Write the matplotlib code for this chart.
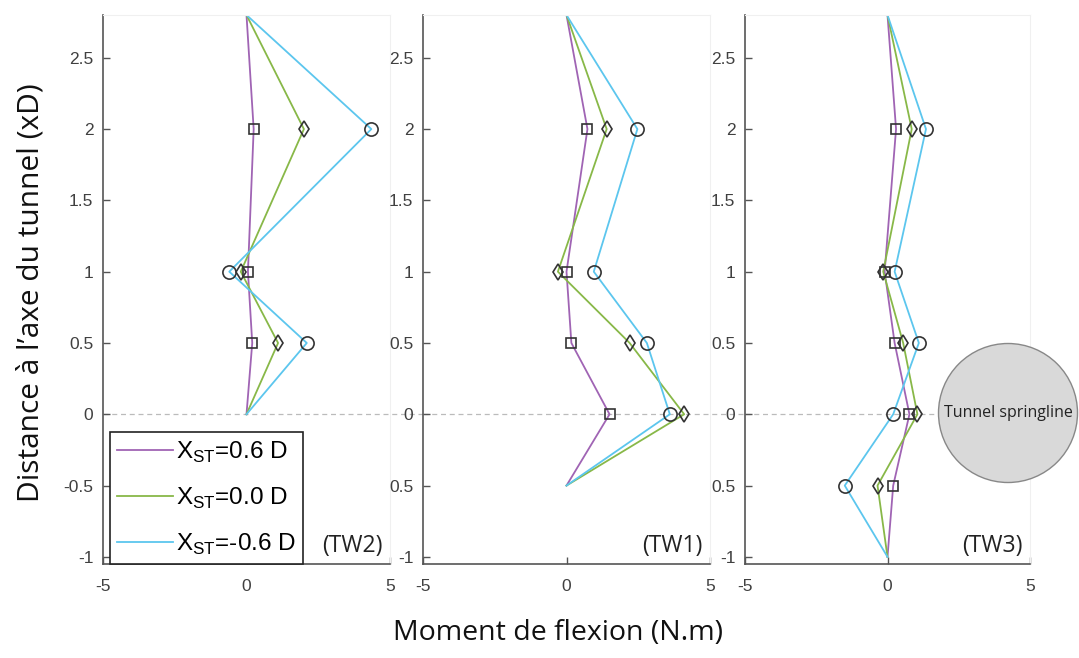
import matplotlib
matplotlib.use('Agg')
import matplotlib.pyplot as plt
from matplotlib.lines import Line2D
from matplotlib.patches import Ellipse

# moment de flexion (N.m) per tunnel wall, one list per X_ST case
tw2_y = [2.8, 2, 1, 0.5, 0]
tw2_p06 = [0, 0.25, 0.05, 0.2, 0]
tw2_p00 = [0, 2.0, -0.2, 1.1, 0]
tw2_m06 = [0, 4.35, -0.6, 2.1, 0]

tw1_y = [2.8, 2, 1, 0.5, 0, -0.5]
tw1_p06 = [0, 0.73, 0.0, 0.17, 1.5, 0]
tw1_p00 = [0, 1.4, -0.3, 2.2, 4.1, 0]
tw1_m06 = [0, 2.47, 0.95, 2.8, 3.6, 0]

tw3_y = [2.8, 2, 1, 0.5, 0, -0.5, -1]
tw3_p06 = [0, 0.3, -0.1, 0.25, 0.77, 0.2, 0]
tw3_p00 = [0, 0.85, -0.15, 0.55, 1.05, -0.35, 0]
tw3_m06 = [0, 1.35, 0.25, 1.1, 0.2, -1.5, 0]

panel_names = ['(TW2)', '(TW1)', '(TW3)']
series_labels = [r'X$_{\mathregular{ST}}$=0.6 D', r'X$_{\mathregular{ST}}$=0.0 D', r'X$_{\mathregular{ST}}$=-0.6 D']
colors = ['#a064b4', '#88b848', '#5cc6ee']
markers = ['s', 'd', 'o']
msizes = [7.5, 8.5, 9.5]

y_ticks = [-1, -0.5, 0, 0.5, 1, 1.5, 2, 2.5]
y_ticklabels_first = ['-1', '-0.5', '0', '0.5', '1', '1.5', '2', '2.5']
y_ticklabels_other = ['-1', '0.5', '0', '0.5', '1', '1.5', '2', '2.5']

panels = [
    (tw2_y, [tw2_p06, tw2_p00, tw2_m06]),
    (tw1_y, [tw1_p06, tw1_p00, tw1_m06]),
    (tw3_y, [tw3_p06, tw3_p00, tw3_m06]),
]

plt.rcParams['mathtext.fontset'] = 'custom'
plt.rcParams['mathtext.rm'] = 'Liberation Sans'

fig = plt.figure(figsize=(10.79, 6.58), dpi=100)
W, H = 1079, 658
lefts = [103, 423, 745]
widths = [287, 287, 285]
gap_ext = [1.115, 1.122, 1.0]
bottom, top = 564, 15

axes = []
for i, (ys, xs_list) in enumerate(panels):
    ax = fig.add_axes([lefts[i] / W, (H - bottom) / H, widths[i] / W, (bottom - top) / H])
    axes.append(ax)
    ax.axhline(0, xmin=0, xmax=gap_ext[i], color='#bbbbbb', ls=(0, (4, 3)), lw=0.9,
               clip_on=False, zorder=1)
    for xs, c, m, ms in zip(xs_list, colors, markers, msizes):
        ax.plot(xs, ys, color=c, lw=1.3, zorder=2)
        ax.plot(xs[1:-1], ys[1:-1], ls='none', marker=m, ms=ms, mfc='none',
                mec='#333333', mew=1.2, zorder=3)
    ax.set_xlim(-5, 5)
    ax.set_ylim(-1.05, 2.8)
    ax.set_xticks([-5, 0, 5])
    ax.set_xticklabels(['-5', '0', '5'])
    ax.set_yticks(y_ticks)
    ax.set_yticklabels(y_ticklabels_first if i == 0 else y_ticklabels_other)
    ax.tick_params(direction='in', length=5, width=1, color='#555555',
                   labelcolor='#404040', labelsize=12.5, labelfontfamily='Liberation Sans')
    ax.tick_params(axis='y', pad=7)
    ax.tick_params(axis='x', pad=11)
    for s in ['left', 'bottom']:
        ax.spines[s].set_color('#555555')
        ax.spines[s].set_linewidth(1.2)
    for s in ['top', 'right']:
        ax.spines[s].set_color('#f0f0f0')
        ax.spines[s].set_linewidth(0.8)
    ax.text(0.975, 0.033, panel_names[i], transform=ax.transAxes, ha='right', va='center',
            fontsize=16.5, family='Open Sans', color='#222222')

handles = [Line2D([0], [0], color=c, lw=1.3) for c in colors]
leg = axes[0].legend(handles, series_labels, loc='lower left', bbox_to_anchor=(0.024, 0.0),
                     borderaxespad=0, handlelength=2.3, handletextpad=0.1,
                     labelspacing=0.85, borderpad=0.3, fancybox=False, framealpha=1,
                     edgecolor='#222222', prop={'family': 'Liberation Sans', 'size': 17.5})
leg.get_frame().set_linewidth(1.2)

# tunnel springline circle
circ = Ellipse((1008 / W, (H - 413) / H), 139 / W, 139 / H, transform=fig.transFigure,
               facecolor='#d9d9d9', edgecolor='#888888', lw=1, zorder=5)
fig.add_artist(circ)
fig.text(1008 / W, (H - 413) / H, 'Tunnel springline', ha='center', va='center',
         fontsize=11.5, family='Open Sans', color='#222222', zorder=6)

fig.text(31 / W, (H - 293) / H, "Distance à l’axe du tunnel (xD)", rotation=90,
         ha='center', va='center', fontsize=21.5, family='Open Sans', color='#111111')
fig.text(558 / W, (H - 633) / H, 'Moment de flexion (N.m)', ha='center', va='center',
         fontsize=20.5, family='Open Sans', color='#111111')

fig.savefig('out.png', dpi=100)
